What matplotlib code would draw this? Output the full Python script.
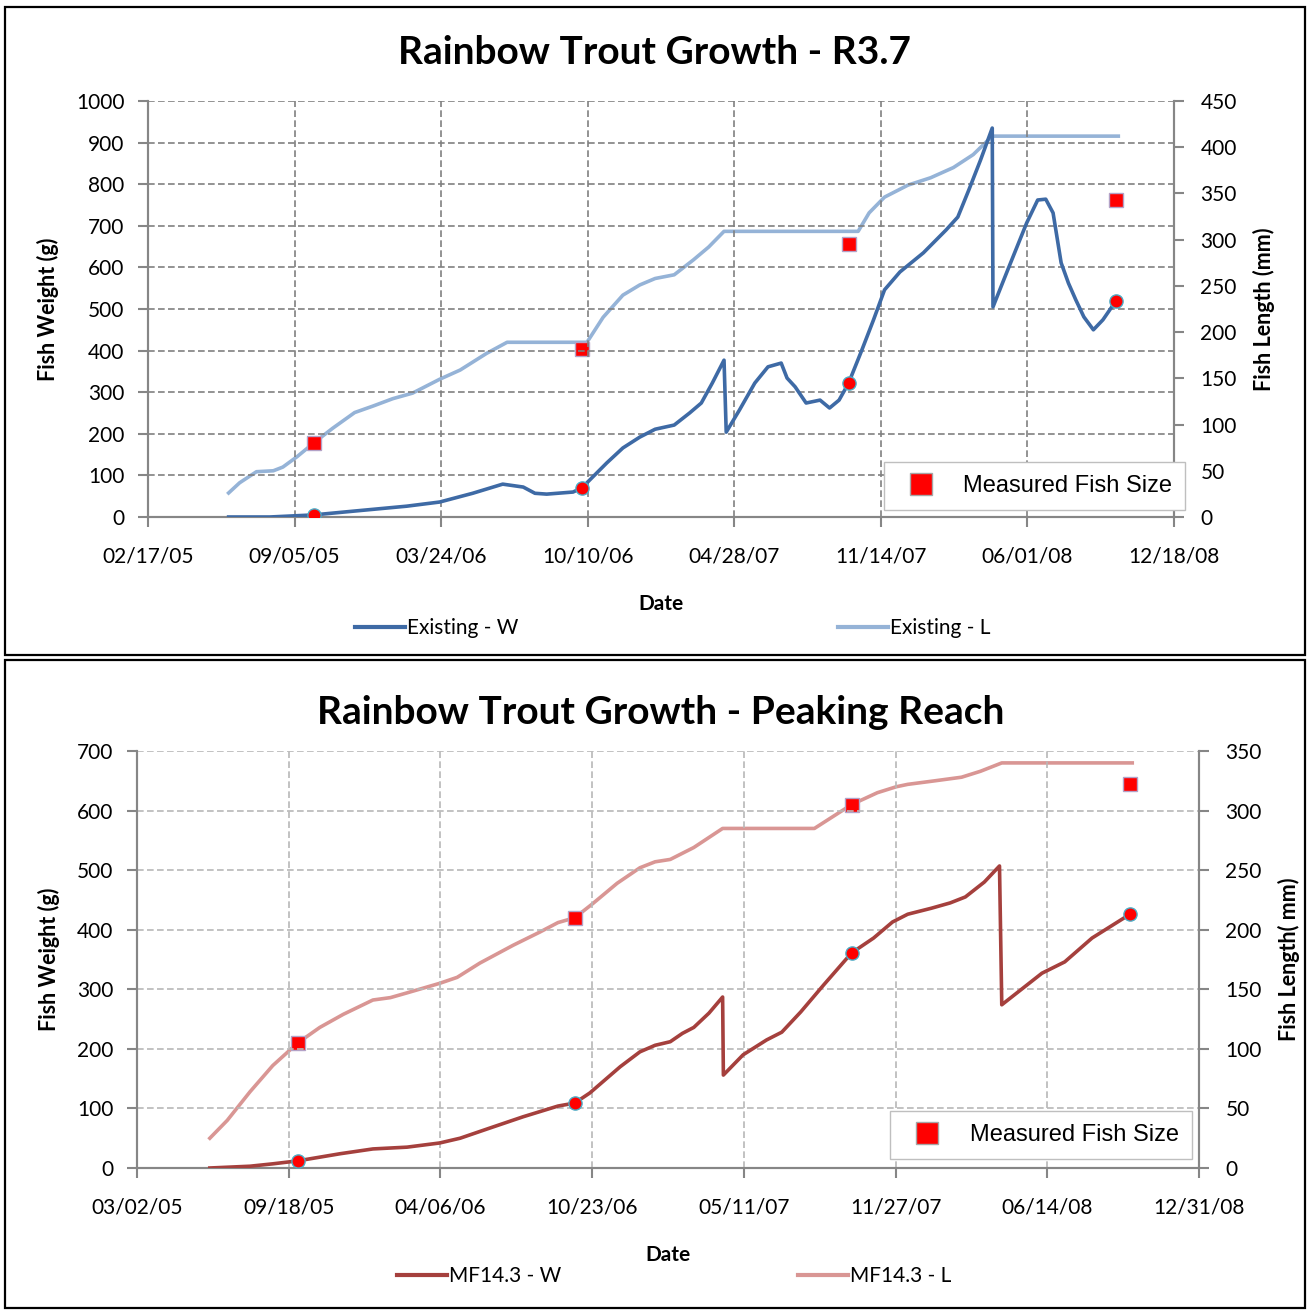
import matplotlib
matplotlib.use('Agg')
import matplotlib.pyplot as plt
import matplotlib.dates as mdates
from matplotlib.lines import Line2D
from matplotlib.patches import Rectangle
import pandas as pd

plt.rcParams['font.family'] = ['Lato', 'DejaVu Sans']

# ---- top chart: R3.7 (days counted from 02/17/05) ----
r37_start = '2005-02-17'
r37_w_days = [110, 166, 226, 280, 353, 398, 443, 484, 512, 528, 544, 580, 592, 626, 648, 671,
              692, 718, 739, 755, 770, 786, 789, 807, 828, 846, 864, 872, 883, 898, 917, 930,
              943, 956, 974, 990, 1005, 1026, 1058, 1089, 1105, 1120, 1136, 1152, 1153, 1172,
              1188, 1199, 1214, 1225, 1235, 1246, 1256, 1266, 1277, 1290, 1303, 1321]
r37_w = [0, 0, 5, 14, 26, 36, 57, 79, 72, 57, 55, 60, 70, 130, 166, 192,
         211, 221, 250, 274, 322, 377, 204, 257, 322, 361, 370, 334, 313, 274, 281, 262,
         281, 322, 401, 474, 546, 589, 635, 690, 721, 786, 858, 935, 505, 589,
         659, 707, 762, 764, 731, 611, 562, 522, 481, 450, 474, 520]
r37_l_days = [110, 125, 148, 171, 184, 203, 226, 252, 282, 307, 334, 361, 398, 426, 462, 490,
              599, 621, 648, 671, 692, 718, 744, 765, 786, 969, 984, 1005, 1037, 1068, 1099,
              1126, 1152, 1324]
r37_l = [26, 37, 49, 50, 54, 65, 80, 96, 113, 120, 128, 134, 149, 159, 177, 189,
         189, 216, 240, 251, 258, 262, 278, 292, 309, 309, 329, 346, 359, 367, 378,
         392, 412, 412]
r37_meas_days = [226, 592, 956, 1321]
r37_meas_w = [5, 70, 322, 520]
r37_meas_l = [80, 182, 295, 343]

# ---- bottom chart: Peaking Reach (days counted from 03/02/05) ----
pk_start = '2005-03-02'
pk_w_days = [96, 149, 179, 212, 268, 311, 356, 399, 426, 465, 509, 555, 577, 597, 637, 663,
             683, 703, 719, 734, 754, 772, 773, 799, 830, 850, 875, 905, 942, 971, 996, 1016,
             1047, 1072, 1092, 1117, 1137, 1140, 1168, 1193, 1223, 1259, 1309]
pk_w = [0, 3, 7, 12, 24, 32, 35, 42, 50, 67, 86, 104, 109, 126, 170, 195,
        206, 212, 226, 236, 260, 287, 156, 190, 215, 228, 262, 307, 361, 386, 413, 426,
        436, 445, 455, 480, 507, 274, 302, 327, 346, 386, 426]
pk_l_days = [96, 119, 149, 179, 212, 241, 272, 311, 334, 356, 399, 422, 452, 496, 531, 555,
             577, 601, 633, 663, 683, 703, 734, 772, 893, 942, 976, 1001, 1016, 1052, 1087,
             1112, 1140, 1312]
pk_l = [25, 40, 64, 86, 105, 118, 129, 141, 143, 147, 155, 160, 172, 187, 198, 206,
        210, 222, 239, 252, 257, 259, 269, 285, 285, 305, 315, 320, 322, 325, 328,
        333, 340, 340]
pk_meas_days = [212, 577, 942, 1309]
pk_meas_w = [12, 109, 361, 426]
pk_meas_l = [105, 210, 305, 322]


def to_dates(start, days):
    return pd.Timestamp(start) + pd.to_timedelta(days, unit='D')


def draw_panel(fig, rect, start, w_days, w, l_days, l, m_days, m_w, m_l,
               wmax, lmax, w_color, l_color, grid_color, r_label):
    ax = fig.add_axes(rect)
    ax2 = ax.twinx()

    ax.plot(to_dates(start, w_days), w, color=w_color, lw=2.6, zorder=3)
    ax2.plot(to_dates(start, l_days), l, color=l_color, lw=2.6, zorder=2)
    # measured fish sizes
    ax.plot(to_dates(start, m_days), m_w, 'o', color='red', mec='#4BACC6',
            ms=9.5, mew=1, zorder=5)
    ax2.plot(to_dates(start, m_days), m_l, 's', color='red', mec='#B3A2C7',
             ms=9.5, mew=1, zorder=5)
    ax.set_zorder(ax2.get_zorder() + 1)
    ax.patch.set_visible(False)

    ticks = [pd.Timestamp(start) + pd.Timedelta(days=200 * k) for k in range(8)]
    ax.set_xlim(ticks[0], ticks[-1])
    ax.set_xticks(ticks)
    ax.xaxis.set_major_formatter(mdates.DateFormatter('%m/%d/%y'))
    ax.set_ylim(0, wmax)
    ax.set_yticks(range(0, wmax + 1, 100))
    ax2.set_ylim(0, lmax)
    ax2.set_yticks(range(0, lmax + 1, 50))

    ax.grid(True, color=grid_color, ls=(0, (4, 2)), lw=1.2)
    for a in (ax, ax2):
        a.spines['top'].set_visible(False)
        for s in ('left', 'bottom', 'right'):
            a.spines[s].set_color('#868686')
            a.spines[s].set_linewidth(1.5)
        a.tick_params(colors='#868686', labelcolor='black', labelsize=15,
                      length=7, width=1.5)
    ax.tick_params(axis='x', pad=14)
    ax.tick_params(axis='y', pad=10)
    ax2.tick_params(axis='y', pad=12)

    ax.set_ylabel('Fish Weight (g)', fontsize=15.5, fontweight='bold', labelpad=12)
    ax2.set_ylabel(r_label, fontsize=15.5, fontweight='bold', labelpad=12)
    ax.set_xlabel('Date', fontsize=15, fontweight='bold', labelpad=20)
    return ax


fig = plt.figure(figsize=(13.07, 13.10), dpi=100)
W, H = 1307, 1310

# panel frames
fig.add_artist(Rectangle((5 / W, 1 - 655 / H), 1300 / W, 648 / H, transform=fig.transFigure,
                         fill=False, ec='black', lw=1.6))
fig.add_artist(Rectangle((5 / W, 1 - 1308 / H), 1300 / W, 648 / H, transform=fig.transFigure,
                         fill=False, ec='black', lw=1.6))

draw_panel(fig, [148 / W, 1 - 517 / H, 1026 / W, 416 / H], r37_start,
           r37_w_days, r37_w, r37_l_days, r37_l, r37_meas_days, r37_meas_w, r37_meas_l,
           1000, 450, '#3E6AA5', '#95B3D7', '#808080', 'Fish Length (mm)')
draw_panel(fig, [137 / W, 1 - 1168 / H, 1062 / W, 417 / H], pk_start,
           pk_w_days, pk_w, pk_l_days, pk_l, pk_meas_days, pk_meas_w, pk_meas_l,
           700, 350, '#A5403D', '#D99694', '#B8B8B8', 'Fish Length( mm)')

fig.text(655 / W, 1 - 52 / H, 'Rainbow Trout Growth - R3.7', ha='center', va='center',
         fontsize=28, fontweight='bold')
fig.text(661 / W, 1 - 712 / H, 'Rainbow Trout Growth - Peaking Reach', ha='center',
         va='center', fontsize=28, fontweight='bold')

# legends
meas = Line2D([], [], ls='none', marker='s', color='red', mec='#A6A6A6', ms=16, mew=1)
for cx, cy in ((1034.5, 486), (1041, 1135)):
    fig.legend(handles=[meas], labels=['Measured Fish Size'], loc='center',
               bbox_to_anchor=(cx / W, 1 - cy / H), fancybox=False, edgecolor='#BFBFBF',
               framealpha=1, borderpad=0.55, handletextpad=0.8,
               prop={'family': 'Liberation Sans', 'size': 17})

series = [('Existing - W', '#3E6AA5', 355, 628), ('Existing - L', '#95B3D7', 838, 628),
          ('MF14.3 - W', '#A5403D', 397, 1276), ('MF14.3 - L', '#D99694', 798, 1276)]
for name, color, x0, y0 in series:
    fig.legend(handles=[Line2D([], [], color=color, lw=3)], labels=[name], loc='center left',
               bbox_to_anchor=(x0 / W, 1 - y0 / H), frameon=False, fontsize=15,
               handlelength=2.4, handletextpad=0.1, borderpad=0, borderaxespad=0)

fig.savefig('out.png', dpi=100)
